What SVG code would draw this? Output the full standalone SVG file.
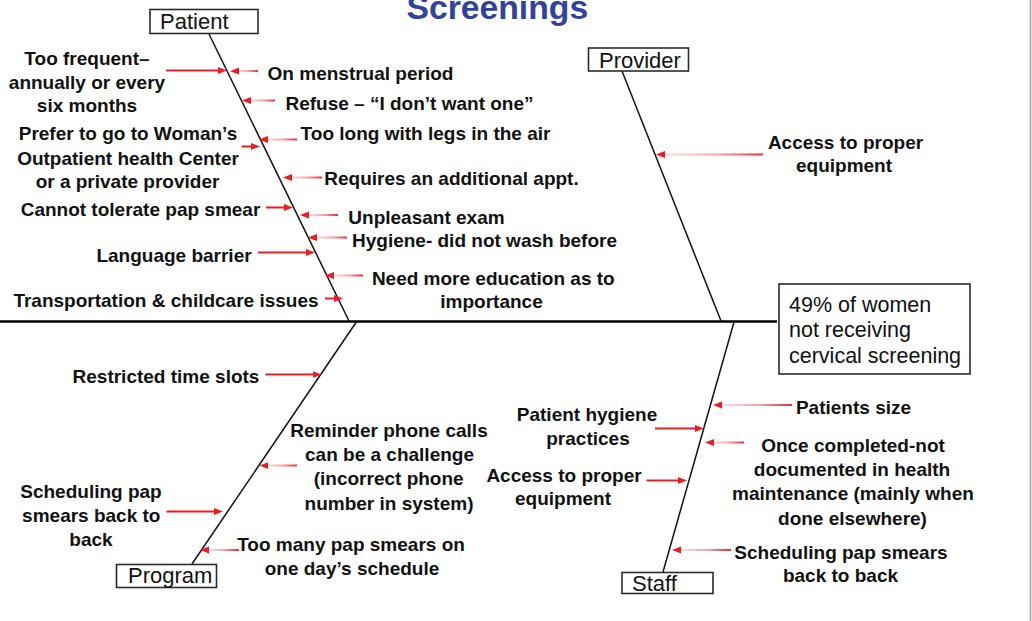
<svg xmlns="http://www.w3.org/2000/svg" width="1032" height="621" viewBox="0 0 1032 621">
<style>
text{font-family:"Liberation Sans",Arial,sans-serif;fill:#111}
.c{font-weight:bold;font-size:19px;text-anchor:middle}
.box{fill:#fff;stroke:#2a2a2a;stroke-width:1.6}
.lbl{font-size:22px}
.eff{font-size:21.5px}
.bone{stroke:#111;stroke-width:1.5;fill:none}
.spine{stroke:#000;stroke-width:2.6}
.ar{stroke:#ED1C24;stroke-width:2;fill:none;marker-end:url(#ah)}
.fd{stroke:url(#fade);stroke-width:2;fill:none;marker-end:url(#ah)}
.title{font-weight:bold;font-size:33.7px;fill:#31429B}
</style>
<defs>
<linearGradient id="fade" x1="0" y1="0" x2="1" y2="0">
<stop offset="0" stop-color="#FFE4E6"/>
<stop offset="0.55" stop-color="#F7A3A8"/>
<stop offset="1" stop-color="#EE2A33"/>
</linearGradient>
<marker id="ah" markerUnits="userSpaceOnUse" markerWidth="10" markerHeight="8" refX="3" refY="3.5" orient="auto">
<path d="M0,0 L9,3.5 L0,7 Z" fill="#ED1C24"/>
</marker>
</defs>
<rect width="1032" height="621" fill="#fff"/>
<line x1="1030.5" y1="0" x2="1030.5" y2="621" stroke="#9a9a9a" stroke-width="1.5"/>
<text id="title" class="title" x="406.5" y="18.5">Screenings</text>

<g id="connectors">
<line class="spine" x1="0" y1="321.5" x2="777" y2="321.5"/>
<line class="bone" x1="209" y1="34" x2="349" y2="321"/>
<line class="bone" x1="622" y1="71" x2="721" y2="321"/>
<line class="bone" x1="192" y1="564" x2="357" y2="321"/>
<line class="bone" x1="663" y1="572" x2="734" y2="322"/>
<path class="ar" d="M166,70.5 L221,70.5"/>
<path class="ar" d="M241.5,146.5 L254,146.5"/>
<path class="ar" d="M266,207.5 L287,207.5"/>
<path class="ar" d="M258,252.5 L309,252.5"/>
<path class="ar" d="M325,298.5 L337,298.5"/>
<path class="ar" d="M265.5,374.5 L315.5,374.5"/>
<path class="ar" d="M166.5,511.5 L217,511.5"/>
<path class="ar" d="M655,428.5 L698,428.5"/>
<path class="ar" d="M646.5,480.5 L681,480.5"/>
<path class="fd" d="M258,71 L236,71.1"/>
<path class="fd" d="M275,100.5 L248,100.6"/>
<path class="fd" d="M297,139.5 L265,139.6"/>
<path class="fd" d="M322,177.5 L289,177.6"/>
<path class="fd" d="M338,215 L306,215.1"/>
<path class="fd" d="M347,237.5 L314,237.6"/>
<path class="fd" d="M363,275.5 L331,275.6"/>
<path class="fd" d="M763,154.5 L662,154.6"/>
<path class="fd" d="M297,465.5 L265.5,465.6"/>
<path class="fd" d="M239,550 L206,550.1"/>
<path class="fd" d="M792,405 L719,405.1"/>
<path class="fd" d="M744,442.5 L711,442.6"/>
<path class="fd" d="M731,550 L678,550.1"/>
</g>

<g id="node-patient"><rect class="box" x="150" y="9.5" width="108" height="24"/><text class="lbl" x="160" y="29">Patient</text></g>
<g id="node-provider"><rect class="box" x="588.5" y="48" width="100" height="23"/><text class="lbl" x="599" y="67.5">Provider</text></g>
<g id="node-program"><rect class="box" x="116.5" y="564.5" width="100" height="23"/><text class="lbl" x="128" y="583">Program</text></g>
<g id="node-staff"><rect class="box" x="622" y="572.5" width="91" height="21"/><text class="lbl" x="632" y="590.5">Staff</text></g>
<g id="node-effect"><rect class="box" x="779" y="284" width="191" height="90"/>
<text class="eff" x="789" y="311.7">49% of women</text>
<text class="eff" x="789" y="337">not receiving</text>
<text class="eff" x="789" y="363">cervical screening</text></g>

<g id="cause-too-frequent"><text class="c" x="87" y="64.5">Too frequent–</text><text class="c" x="87" y="88.5">annually or every</text><text class="c" x="87" y="112">six months</text></g>
<g id="cause-prefer"><text class="c" x="128" y="140">Prefer to go to Woman’s</text><text class="c" x="128" y="164.5">Outpatient health Center</text><text class="c" x="127.5" y="188">or a private provider</text></g>
<g id="cause-cannot-tolerate"><text class="c" x="140.5" y="216">Cannot tolerate pap smear</text></g>
<g id="cause-language"><text class="c" x="174" y="261.5">Language barrier</text></g>
<g id="cause-transport"><text class="c" x="166" y="307">Transportation &amp; childcare issues</text></g>
<g id="cause-menstrual"><text class="c" x="360.5" y="80">On menstrual period</text></g>
<g id="cause-refuse"><text class="c" x="409.5" y="110">Refuse – “I don’t want one”</text></g>
<g id="cause-too-long"><text class="c" x="425.5" y="140">Too long with legs in the air</text></g>
<g id="cause-additional"><text class="c" x="451.5" y="185">Requires an additional appt.</text></g>
<g id="cause-unpleasant"><text class="c" x="426.5" y="224">Unpleasant exam</text></g>
<g id="cause-hygiene"><text class="c" x="484.5" y="246.5">Hygiene- did not wash before</text></g>
<g id="cause-education"><text class="c" x="493.3" y="285">Need more education as to</text><text class="c" x="491.5" y="308">importance</text></g>
<g id="cause-provider-equipment"><text class="c" x="845.5" y="148.5">Access to proper</text><text class="c" x="844" y="171.5">equipment</text></g>
<g id="cause-restricted"><text class="c" x="166" y="383">Restricted time slots</text></g>
<g id="cause-reminder"><text class="c" x="389" y="436.5">Reminder phone calls</text><text class="c" x="389.5" y="460.5">can be a challenge</text><text class="c" x="388.7" y="485">(incorrect phone</text><text class="c" x="389" y="510">number in system)</text></g>
<g id="cause-program-scheduling"><text class="c" x="91" y="497.5">Scheduling pap</text><text class="c" x="91.3" y="521.5">smears back to</text><text class="c" x="91" y="545.5">back</text></g>
<g id="cause-too-many"><text class="c" x="351" y="550.5">Too many pap smears on</text><text class="c" x="352" y="575">one day’s schedule</text></g>
<g id="cause-patients-size"><text class="c" x="853.5" y="413.5">Patients size</text></g>
<g id="cause-not-documented"><text class="c" x="853" y="451.5">Once completed-not</text><text class="c" x="852" y="476">documented in health</text><text class="c" x="853" y="500">maintenance (mainly when</text><text class="c" x="852.5" y="524.5">done elsewhere)</text></g>
<g id="cause-staff-scheduling"><text class="c" x="841" y="558.5">Scheduling pap smears</text><text class="c" x="840.5" y="582">back to back</text></g>
<g id="cause-patient-hygiene"><text class="c" x="587" y="420.5">Patient hygiene</text><text class="c" x="588" y="445">practices</text></g>
<g id="cause-staff-equipment"><text class="c" x="564" y="481.5">Access to proper</text><text class="c" x="563" y="505">equipment</text></g>
</svg>
